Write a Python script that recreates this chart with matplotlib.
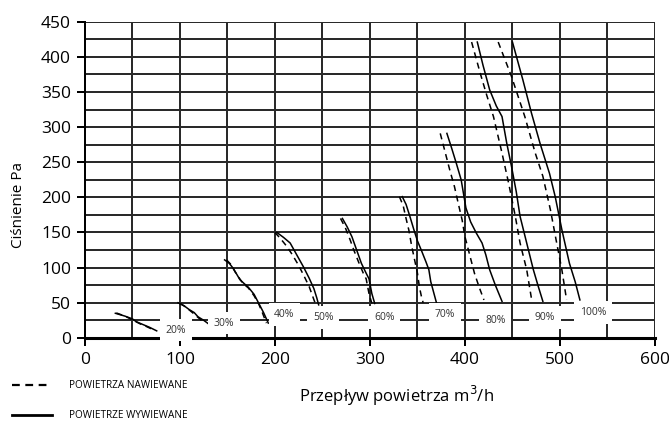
import matplotlib
matplotlib.use('Agg')
import matplotlib.pyplot as plt
from matplotlib.lines import Line2D
import numpy as np

plt.rcParams['font.family'] = ['Open Sans', 'DejaVu Sans']

# fan speed settings and where their labels sit
labels = ['20%', '30%', '40%', '50%', '60%', '70%', '80%', '90%', '100%']
label_x = [96, 146, 210, 251, 315, 379, 432, 484, 535]
label_y = [11, 21, 33, 29, 29, 33, 25, 29, 36]

# supply air (dashed) curves
supply_x = [
    [33, 42, 51, 58, 65, 72],
    [100, 106, 114, 120, 126],
    [149, 154, 158, 162, 166, 172, 178, 183, 187, 191],
    [200, 206, 212, 218, 225, 231, 236, 240, 243],
    [269, 274, 279, 283, 288, 293, 296, 299, 302],
    [331, 335, 338, 341, 344, 347, 350, 352, 354, 356],
    [374, 379, 384, 389, 393, 397, 400, 405, 410, 415, 420],
    [407, 416, 423, 430, 439, 446, 453, 458, 465, 470],
    [435, 449, 463, 474, 482, 490, 496, 502, 507],
]
supply_y = [
    [35.5, 31, 25, 20, 16, 11.5],
    [49, 44, 35, 28, 21],
    [111, 104, 94, 86, 78, 71, 60, 48, 35, 21],
    [150, 141, 131, 119, 103, 87, 73, 58, 47],
    [170, 157, 140, 125, 108, 92, 84, 63, 49],
    [201, 188, 170, 153, 130, 111, 92, 73, 60, 50],
    [291, 265, 239, 215, 191, 168, 144, 118, 92, 72, 54],
    [421, 377, 345, 315, 263, 220, 173, 135, 97, 56],
    [421, 372, 315, 263, 230, 182, 139, 97, 54],
]

# exhaust air (solid) curves
exhaust_x = [
    [32, 42, 50, 54, 61, 68, 75.5],
    [98, 104, 110, 115, 119, 125, 130],
    [147, 152, 156, 160, 163, 167, 172, 178, 183, 188, 193],
    [202, 209, 216, 223, 230, 236, 241, 244, 246],
    [271, 276, 281, 286, 291, 296, 299, 302, 305],
    [334, 338, 342, 346, 350, 354, 359, 362, 364, 367, 370],
    [381, 386, 391, 396, 401, 406, 412, 418, 422, 426, 432, 439],
    [413, 419, 426, 433, 439, 444, 449, 454, 458, 465, 472, 477, 482],
    [450, 461, 470, 479, 489, 495, 502, 510, 516, 521],
]
exhaust_y = [
    [35, 31, 27, 23, 19, 15, 10],
    [50, 46, 40, 36, 30, 25, 20],
    [111, 106, 99, 90, 83, 78, 72, 62, 49, 36, 21],
    [150, 143, 135, 118, 101, 85, 70, 57, 47],
    [170, 158, 144, 125, 106, 92, 84, 63, 49],
    [201, 190, 173, 155, 138, 125, 108, 97, 80, 65, 50],
    [291, 270, 248, 225, 185, 165, 149, 135, 118, 97, 75, 52],
    [421, 388, 353, 330, 315, 277, 244, 208, 173, 135, 97, 74, 52],
    [421, 367, 320, 277, 234, 201, 154, 106, 80, 54],
]

fig = plt.figure(figsize=(6.69, 4.25), dpi=100)
ax = fig.add_axes([0.127, 0.205, 0.852, 0.744])

ax.set_xlim(0, 600)
ax.set_ylim(0, 450)
ax.set_xticks(np.arange(0, 601, 100))
ax.set_yticks(np.arange(0, 451, 50))
ax.set_xticks(np.arange(0, 601, 50), minor=True)
ax.set_yticks(np.arange(0, 451, 25), minor=True)
ax.grid(which='both', color='#2a2a2a', linewidth=1.44)
ax.set_axisbelow(True)
ax.tick_params(which='major', direction='out', length=6, width=1.44, labelsize=12.5, pad=4)
ax.tick_params(which='minor', length=0)
for s in ['top', 'right']:
    ax.spines[s].set_visible(False)
ax.spines['left'].set_linewidth(1.44)
ax.spines['bottom'].set_linewidth(2.2)

for xs, ys in zip(supply_x, supply_y):
    ax.plot(xs, ys, color='black', linewidth=1.1, linestyle=(0, (4, 3)), zorder=3)
for xs, ys in zip(exhaust_x, exhaust_y):
    ax.plot(xs, ys, color='black', linewidth=1.1, zorder=3)

for lab, lx, ly in zip(labels, label_x, label_y):
    ax.text(lx, ly, lab, fontsize=7.5, color='#333333', ha='center', va='center', zorder=4,
            bbox=dict(boxstyle='square,pad=0.55', facecolor='white', edgecolor='none'))

fig.text(0.027, 0.517, 'Ciśnienie Pa', rotation=90, fontsize=11, ha='center', va='center')
fig.text(0.593, 0.068, 'Przepływ powietrza m$^3$/h', fontsize=12, ha='center', va='center')

handles = [Line2D([], [], color='black', linewidth=1.6, linestyle=(0, (3.5, 2.5))),
           Line2D([], [], color='black', linewidth=2.0)]
fig.legend(handles, ['POWIETRZA NAWIEWANE', 'POWIETRZE WYWIEWANE'], loc='lower left',
           bbox_to_anchor=(0.005, -0.012), frameon=False, fontsize=7.2, handlelength=4.0,
           labelspacing=1.9, handletextpad=1.7)

fig.savefig('out.png', dpi=100)
